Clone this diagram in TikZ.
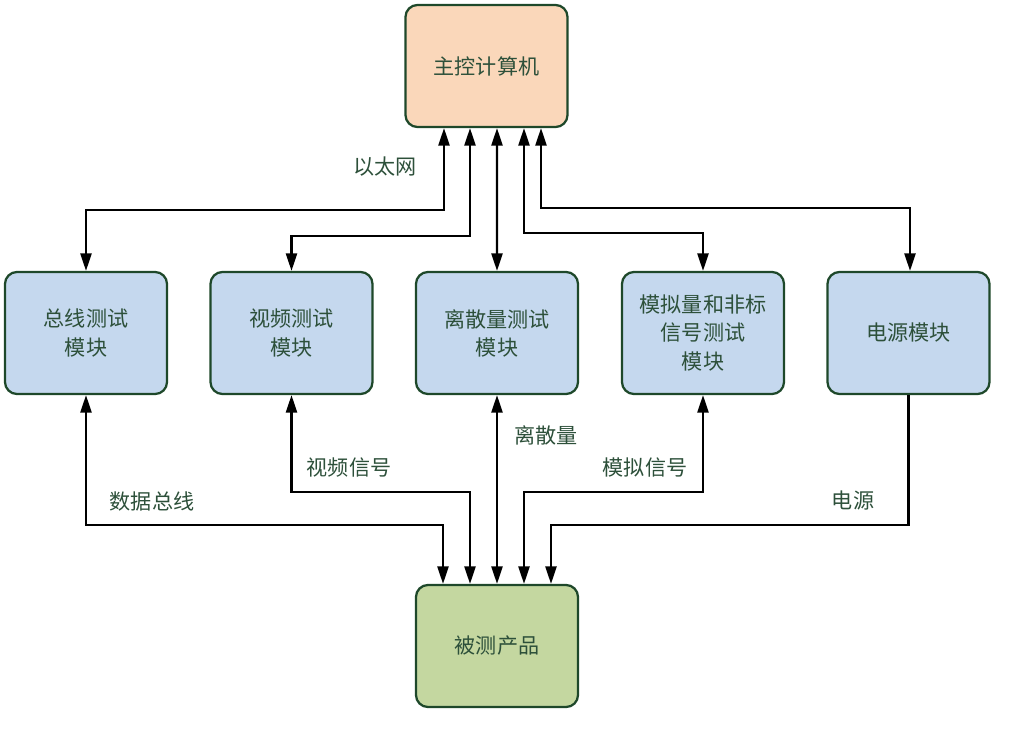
\documentclass[tikz,border=0pt]{standalone}
\usepackage{fontspec}
\setmainfont{Noto Sans CJK SC}
\usetikzlibrary{arrows.meta,calc}
\definecolor{boxline}{RGB}{30,72,42}
\definecolor{txtcol}{RGB}{45,80,58}
\definecolor{hostfill}{RGB}{250,215,186}
\definecolor{modfill}{RGB}{197,216,238}
\definecolor{dutfill}{RGB}{196,215,160}
\tikzset{
  modbox/.style={draw=boxline, line width=1.6pt, rounded corners=0.3cm,
    minimum width=4.05cm, minimum height=3.05cm, align=center,
    text=txtcol, font=\fontsize{15}{20}\selectfont},
  lbl/.style={text=txtcol, font=\fontsize{15}{20}\selectfont, inner sep=0pt},
  tip/.tip={Triangle[length=0.44cm,width=0.28cm]},
  link/.style={line width=1.5pt, tip-tip},
  feed/.style={line width=1.5pt, -tip},
}
\begin{document}
\begin{tikzpicture}[x=0.025cm, y=-0.025cm]
    \useasboundingbox (0,0) rectangle (1012,729);

    % Host computer
    \node[modbox, fill=hostfill] (host) at (486.5,66) {主控计算机};

    % Test modules
    \node[modbox, fill=modfill] (bus)    at (86,333)    {总线测试\\模块};
    \node[modbox, fill=modfill] (video)  at (291.5,333) {视频测试\\模块};
    \node[modbox, fill=modfill] (disc)   at (497,333)   {离散量测试\\模块};
    \node[modbox, fill=modfill] (analog) at (703,333)   {模拟量和非标\\信号测试\\模块};
    \node[modbox, fill=modfill] (power)  at (908.5,333) {电源模块};

    % Product under test
    \node[modbox, fill=dutfill] (dut) at (497,646) {被测产品};

    % Ethernet links
    \draw[link] ($(host.south)+(-42.5,0)$) |- ($(bus.north)+(0,-61)$) -- (bus.north);
    \draw[link] ($(host.south)+(-16.5,0)$) |- ($(video.north)+(0,-35)$) -- (video.north);
    \draw[link] ($(host.south)+(10.5,0)$) -- (disc.north);
    \draw[link] ($(host.south)+(37.5,0)$) |- ($(analog.north)+(0,-38)$) -- (analog.north);
    \draw[link] ($(host.south)+(54.5,0)$) |- ($(power.north)+(1.5,-63)$) -- ($(power.north)+(1.5,0)$);
    \node[lbl] (eth) at (385,167) {以太网};

    % Signal links
    \draw[link] (bus.south) |- ($(dut.north)+(-54,-59)$) -- ($(dut.north)+(-54,0)$);
    \draw[link] (video.south) |- ($(dut.north)+(-27,-92)$) -- ($(dut.north)+(-27,0)$);
    \draw[link] (disc.south) -- (dut.north);
    \draw[link] (analog.south) |- ($(dut.north)+(27,-92)$) -- ($(dut.north)+(27,0)$);
    \draw[feed] (power.south) |- ($(dut.north)+(54,-59)$) -- ($(dut.north)+(54,0)$);

    \node[lbl] (busl)   at (152,501) {数据总线};
    \node[lbl] (videol) at (349,468) {视频信号};
    \node[lbl] (discl)  at (546,435) {离散量};
    \node[lbl] (anal)   at (645,468) {模拟信号};
    \node[lbl] (powl)   at (853,501) {电源};
\end{tikzpicture}
\end{document}
